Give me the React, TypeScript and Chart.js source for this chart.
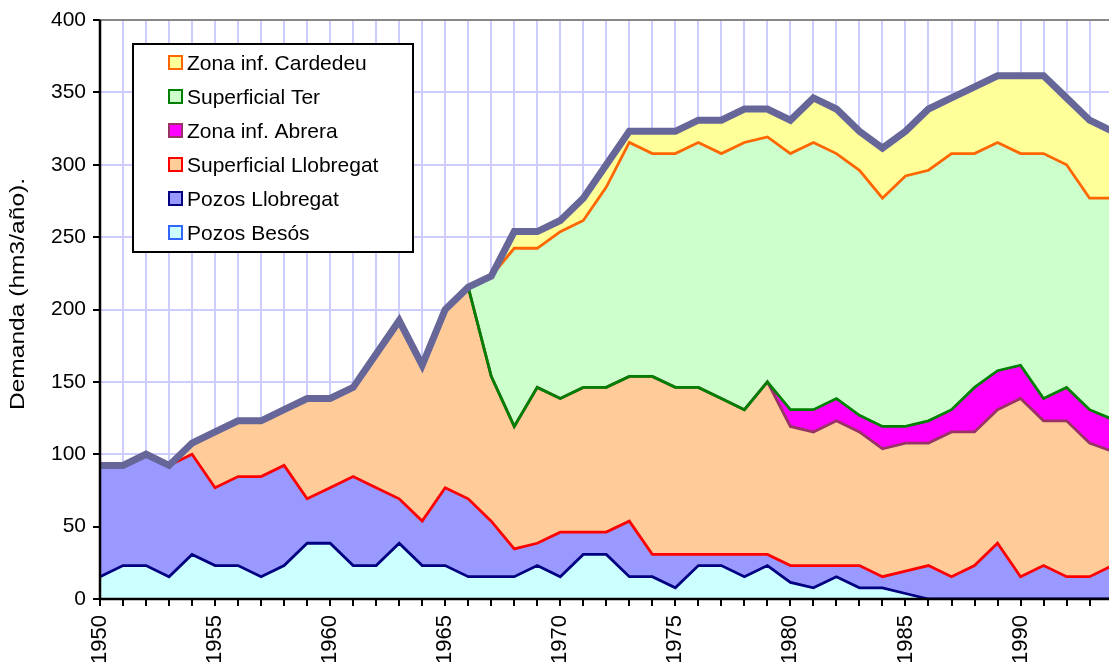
import { useEffect, useRef } from 'react';
import { Chart, registerables } from 'chart.js';

Chart.register(...registerables);

const YEARS = [
  '1950', '1951', '1952', '1953', '1954', '1955', '1956', '1957', '1958', '1959',
  '1960', '1961', '1962', '1963', '1964', '1965', '1966', '1967', '1968', '1969',
  '1970', '1971', '1972', '1973', '1974', '1975', '1976', '1977', '1978', '1979',
  '1980', '1981', '1982', '1983', '1984', '1985', '1986', '1987', '1988', '1989',
  '1990', '1991', '1992', '1993', '1994',
];

const Y_TITLE = 'Demanda (hm3/año).';

// stacking order: bottom to top
const SERIES_NAMES = [
  'Pozos Besós',
  'Pozos Llobregat',
  'Superficial Llobregat',
  'Zona inf. Abrera',
  'Superficial Ter',
  'Zona inf. Cardedeu',
];
const FILL_COLORS = ['#ccffff', '#9999ff', '#ffcc99', '#ff00ff', '#ccffcc', '#ffff99'];
const EDGE_COLORS = ['#3366ff', '#000080', '#ff0000', '#993366', '#008000', '#ff6600'];
const TOTAL_COLOR = '#666699';

const pozosBesos = [
  15.4, 23.1, 23.1, 15.4, 30.8, 23.1, 23.1, 15.4, 23.1, 38.5,
  38.5, 23.1, 23.1, 38.5, 23.1, 23.1, 15.4, 15.4, 15.4, 23.1,
  15.4, 30.8, 30.8, 15.4, 15.4, 7.7, 23.1, 23.1, 15.4, 23.1,
  11.5, 7.7, 15.4, 7.7, 7.7, 3.8, 0, 0, 0, 0,
  0, 0, 0, 0, 0,
];
const pozosLlobregat = [
  76.9, 69.2, 76.9, 76.9, 69.2, 53.8, 61.5, 69.2, 69.2, 30.7,
  38.4, 61.5, 53.8, 30.7, 30.7, 53.8, 53.8, 38.4, 19.2, 15.4,
  30.8, 15.4, 15.4, 38.4, 15.4, 23.1, 7.7, 7.7, 15.4, 7.7,
  11.6, 15.4, 7.7, 15.4, 7.7, 15.4, 23.1, 15.4, 23.1, 38.5,
  15.4, 23.1, 15.4, 15.4, 23.1,
];
const superficialLlobregat = [
  0, 0, 0, 0, 7.7, 38.5, 38.5, 38.5, 38.5, 69.3,
  61.6, 61.6, 92.3, 123.1, 107.7, 123.1, 146.2, 100, 84.6, 107.7,
  92.3, 100, 100, 100, 123, 115.4, 115.4, 107.7, 100, 119.2,
  96.1, 92.3, 100, 92.3, 88.4, 88.5, 84.6, 100, 92.3, 92.3,
  123.1, 100, 107.7, 92.3, 78.8,
];
const zonaAbrera = [
  0, 0, 0, 0, 0, 0, 0, 0, 0, 0,
  0, 0, 0, 0, 0, 0, 0, 0, 0, 0,
  0, 0, 0, 0, 0, 0, 0, 0, 0, 0,
  11.6, 15.4, 15.4, 11.5, 15.4, 11.5, 15.4, 15.4, 30.8, 26.9,
  23, 15.4, 23.1, 23.1, 22.2,
];
const superficialTer = [
  0, 0, 0, 0, 0, 0, 0, 0, 0, 0,
  0, 0, 0, 0, 0, 0, 0, 69.3, 123.1, 96.1,
  115.3, 115.3, 138.4, 161.6, 153.9, 161.5, 169.2, 169.2, 184.6, 169.2,
  176.9, 184.6, 169.2, 169.3, 157.7, 173.1, 173.1, 176.9, 161.5, 157.7,
  146.2, 169.2, 153.8, 146.1, 152.8,
];
const zonaCardedeu = [
  0, 0, 0, 0, 0, 0, 0, 0, 0, 0,
  0, 0, 0, 0, 0, 0, 0, 0, 11.5, 11.5,
  7.7, 15.4, 15.4, 7.7, 15.4, 15.4, 15.4, 23.1, 23.1, 19.3,
  23.1, 30.8, 30.8, 26.9, 34.6, 30.8, 42.3, 38.5, 46.1, 46.1,
  53.8, 53.8, 46.2, 53.9, 46.2,
];

const SERIES = [pozosBesos, pozosLlobregat, superficialLlobregat, zonaAbrera, superficialTer, zonaCardedeu];

const FONT_FAMILY = '"Liberation Sans", Arial, Helvetica, sans-serif';

const boxLegendPlugin = {
  id: 'boxLegend',
  afterDraw(chart: any) {
    const ctx = chart.ctx as CanvasRenderingContext2D;
    ctx.save();
    const bx = 133, by = 44, bw = 280, bh = 208;
    ctx.fillStyle = '#ffffff';
    ctx.fillRect(bx, by, bw, bh);
    ctx.lineWidth = 2;
    ctx.strokeStyle = '#000000';
    ctx.strokeRect(bx, by, bw, bh);
    ctx.font = `21px ${FONT_FAMILY}`;
    ctx.textAlign = 'left';
    ctx.textBaseline = 'alphabetic';
    for (let row = 0; row < SERIES_NAMES.length; row++) {
      const si = SERIES_NAMES.length - 1 - row;
      const cy = 62 + row * 34;
      ctx.fillStyle = FILL_COLORS[si];
      ctx.fillRect(169, cy - 6, 13, 13);
      ctx.strokeStyle = EDGE_COLORS[si];
      ctx.lineWidth = 2;
      ctx.strokeRect(169, cy - 6, 13, 13);
      ctx.fillStyle = '#000000';
      ctx.fillText(SERIES_NAMES[si], 187, cy + 7.5);
    }
    ctx.restore();
  },
};

const axisLinesPlugin = {
  id: 'axisLines',
  afterDatasetsDraw(chart: any) {
    const { ctx, chartArea } = chart;
    const { left, right, top, bottom } = chartArea;
    ctx.save();
    ctx.strokeStyle = '#000000';
    ctx.lineWidth = 2.5;
    ctx.beginPath();
    ctx.moveTo(left, top);
    ctx.lineTo(left, bottom + 1);
    ctx.moveTo(left - 1, bottom);
    ctx.lineTo(right + 5, bottom);
    ctx.stroke();
    ctx.restore();
  },
};

const yTitlePlugin = {
  id: 'yTitle',
  afterDraw(chart: any) {
    const ctx = chart.ctx as CanvasRenderingContext2D;
    ctx.save();
    ctx.translate(18, 294);
    ctx.rotate(-Math.PI / 2);
    ctx.scale(1.17, 1);
    ctx.font = `21px ${FONT_FAMILY}`;
    ctx.fillStyle = '#000000';
    ctx.textAlign = 'center';
    ctx.textBaseline = 'middle';
    ctx.fillText(Y_TITLE, 0, 0);
    ctx.restore();
  },
};

export default function App() {
  const canvasRef = useRef<HTMLCanvasElement | null>(null);

  useEffect(() => {
    const canvas = canvasRef.current;
    if (!canvas) return;

    const cumulative: number[][] = [];
    SERIES.forEach((s, i) => {
      cumulative.push(s.map((v, j) => v + (i > 0 ? cumulative[i - 1][j] : 0)));
    });

    const datasets: any[] = SERIES.map((_, i) => ({
      label: SERIES_NAMES[i],
      data: cumulative[i],
      backgroundColor: FILL_COLORS[i],
      borderColor: i < SERIES.length - 1 ? EDGE_COLORS[i + 1] : 'rgba(0,0,0,0)',
      borderWidth: 2.8,
      fill: i === 0 ? 'origin' : i - 1,
      pointRadius: 0,
      pointHoverRadius: 0,
      tension: 0,
      order: SERIES.length - i,
    }));
    datasets.push({
      label: 'Total',
      data: cumulative[SERIES.length - 1],
      borderColor: TOTAL_COLOR,
      backgroundColor: TOTAL_COLOR,
      borderWidth: 7,
      fill: false,
      pointRadius: 0,
      pointHoverRadius: 0,
      tension: 0,
      order: 0,
    });

    const chart = new Chart(canvas, {
      type: 'line',
      data: { labels: YEARS, datasets },
      options: {
        animation: false,
        responsive: false,
        devicePixelRatio: 1,
        layout: { padding: { top: 20, right: 23, left: 0, bottom: 0 } },
        plugins: {
          legend: { display: false },
          tooltip: { enabled: false },
          filler: { drawTime: 'beforeDatasetsDraw' },
        },
        scales: {
          x: {
            type: 'category',
            offset: false,
            grid: {
              color: '#ccccff',
              lineWidth: 2,
              tickColor: '#000000',
              tickWidth: 2,
              tickLength: 7,
              offset: false,
            },
            border: { display: false },
            ticks: {
              autoSkip: false,
              maxRotation: 90,
              minRotation: 90,
              padding: 9,
              color: '#000000',
              font: { family: FONT_FAMILY, size: 22 },
              callback: (_v: any, index: number) => (index % 5 === 0 ? YEARS[index] : ''),
            },
            afterFit: (scale: any) => {
              scale.height = 63;
            },
          },
          y: {
            min: 0,
            max: 400,
            grid: {
              color: (ctx: any) => (ctx.tick && ctx.tick.value === 400 ? '#888888' : '#ccccff'),
              lineWidth: 2,
              tickColor: '#000000',
              tickWidth: 2,
              tickLength: 7,
            },
            border: { display: false },
            ticks: {
              stepSize: 50,
              padding: 7,
              color: '#000000',
              font: { family: FONT_FAMILY, size: 21 },
            },
            title: { display: false },
            afterFit: (scale: any) => {
              scale.width = 100;
            },
          },
        },
      },
      plugins: [axisLinesPlugin, boxLegendPlugin, yTitlePlugin],
    });

    return () => {
      chart.destroy();
    };
  }, []);

  return (
    <div
      style={{
        position: 'absolute',
        left: 0,
        top: 0,
        width: 1109,
        height: 662,
        overflow: 'hidden',
        background: '#ffffff',
      }}
    >
      <canvas ref={canvasRef} width={1148} height={662} style={{ display: 'block', width: 1148, height: 662 }} />
    </div>
  );
}
